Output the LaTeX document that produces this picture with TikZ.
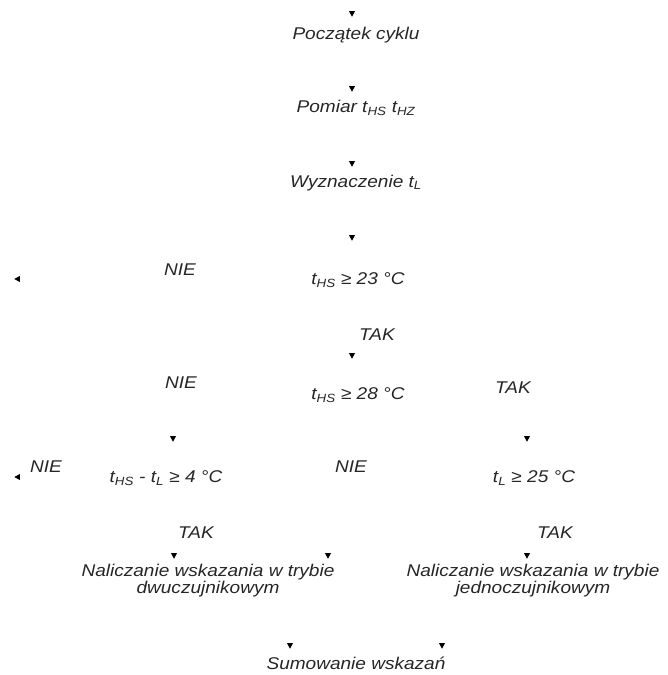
\documentclass[tikz,border=0pt]{standalone}
\usepackage{fontspec}
\setmainfont{Liberation Sans}[FakeStretch=1.12]
\usetikzlibrary{shapes.geometric}
\tikzset{
  lbl/.style={font=\fontsize{17}{17}\selectfont\itshape, inner sep=0pt, align=center, text=black!85},
  tipdown/.style={isosceles triangle, isosceles triangle stretches, shape border rotate=270,
    fill=black, draw=none, inner sep=0pt, minimum width=6pt, minimum height=5.5pt},
  tipleft/.style={tipdown, shape border rotate=180},
}
\newcommand{\tHS}{t\textsubscript{HS}}
\begin{document}
\begin{tikzpicture}[x=1pt,y=-1pt]
  \useasboundingbox (0,0) rectangle (668,675);

  % Start and measurement
  \node [tipdown] (d1) at (352,13) {};
  \node [lbl] (start) at (356,35) {Początek cyklu};
  \node [tipdown] (d2) at (352,88) {};
  \node [lbl] (pomiar) at (356,108) {Pomiar \tHS{} t\textsubscript{HZ}};
  \node [tipdown] (d3) at (352,163) {};
  \node [lbl] (wyzn) at (356,183) {Wyznaczenie t\textsubscript{L}};

  % First condition
  \node [tipdown] (d4) at (352,237) {};
  \node [lbl] (cA) at (358,280) {\tHS{} ≥ 23 °C};
  \node [lbl] (nieA) at (180,270) {NIE};
  \node [tipleft] (dl1) at (18,279) {};
  \node [lbl] (takA) at (377,335) {TAK};

  % Second condition
  \node [tipdown] (d5) at (352,355) {};
  \node [lbl] (cB) at (358,395) {\tHS{} ≥ 28 °C};
  \node [lbl] (nieB) at (181,383) {NIE};
  \node [lbl] (takB) at (513,388) {TAK};

  % Left and right conditions
  \node [tipdown] (d6) at (173,438) {};
  \node [tipdown] (d7) at (527,438) {};
  \node [lbl] (nieC) at (46,467) {NIE};
  \node [tipleft] (dl2) at (18,477) {};
  \node [lbl] (cC) at (166,478) {\tHS{} - t\textsubscript{L} ≥ 4 °C};
  \node [lbl] (nieD) at (351,467) {NIE};
  \node [lbl] (cD) at (534,478) {t\textsubscript{L} ≥ 25 °C};
  \node [lbl] (takC) at (196,533) {TAK};
  \node [lbl] (takD) at (555,533) {TAK};

  % Counting modes
  \node [tipdown] (d8) at (174,555) {};
  \node [tipdown] (d9) at (328,555) {};
  \node [tipdown] (d10) at (527,555) {};
  \node [lbl] (dwu) at (208,581) {Naliczanie wskazania w trybie\\dwuczujnikowym};
  \node [lbl] (jedno) at (533,581) {Naliczanie wskazania w trybie\\jednoczujnikowym};

  % Sum
  \node [tipdown] (d11) at (290,645) {};
  \node [tipdown] (d12) at (442,645) {};
  \node [lbl] (sum) at (356,663) {Sumowanie wskazań};
\end{tikzpicture}
\end{document}
